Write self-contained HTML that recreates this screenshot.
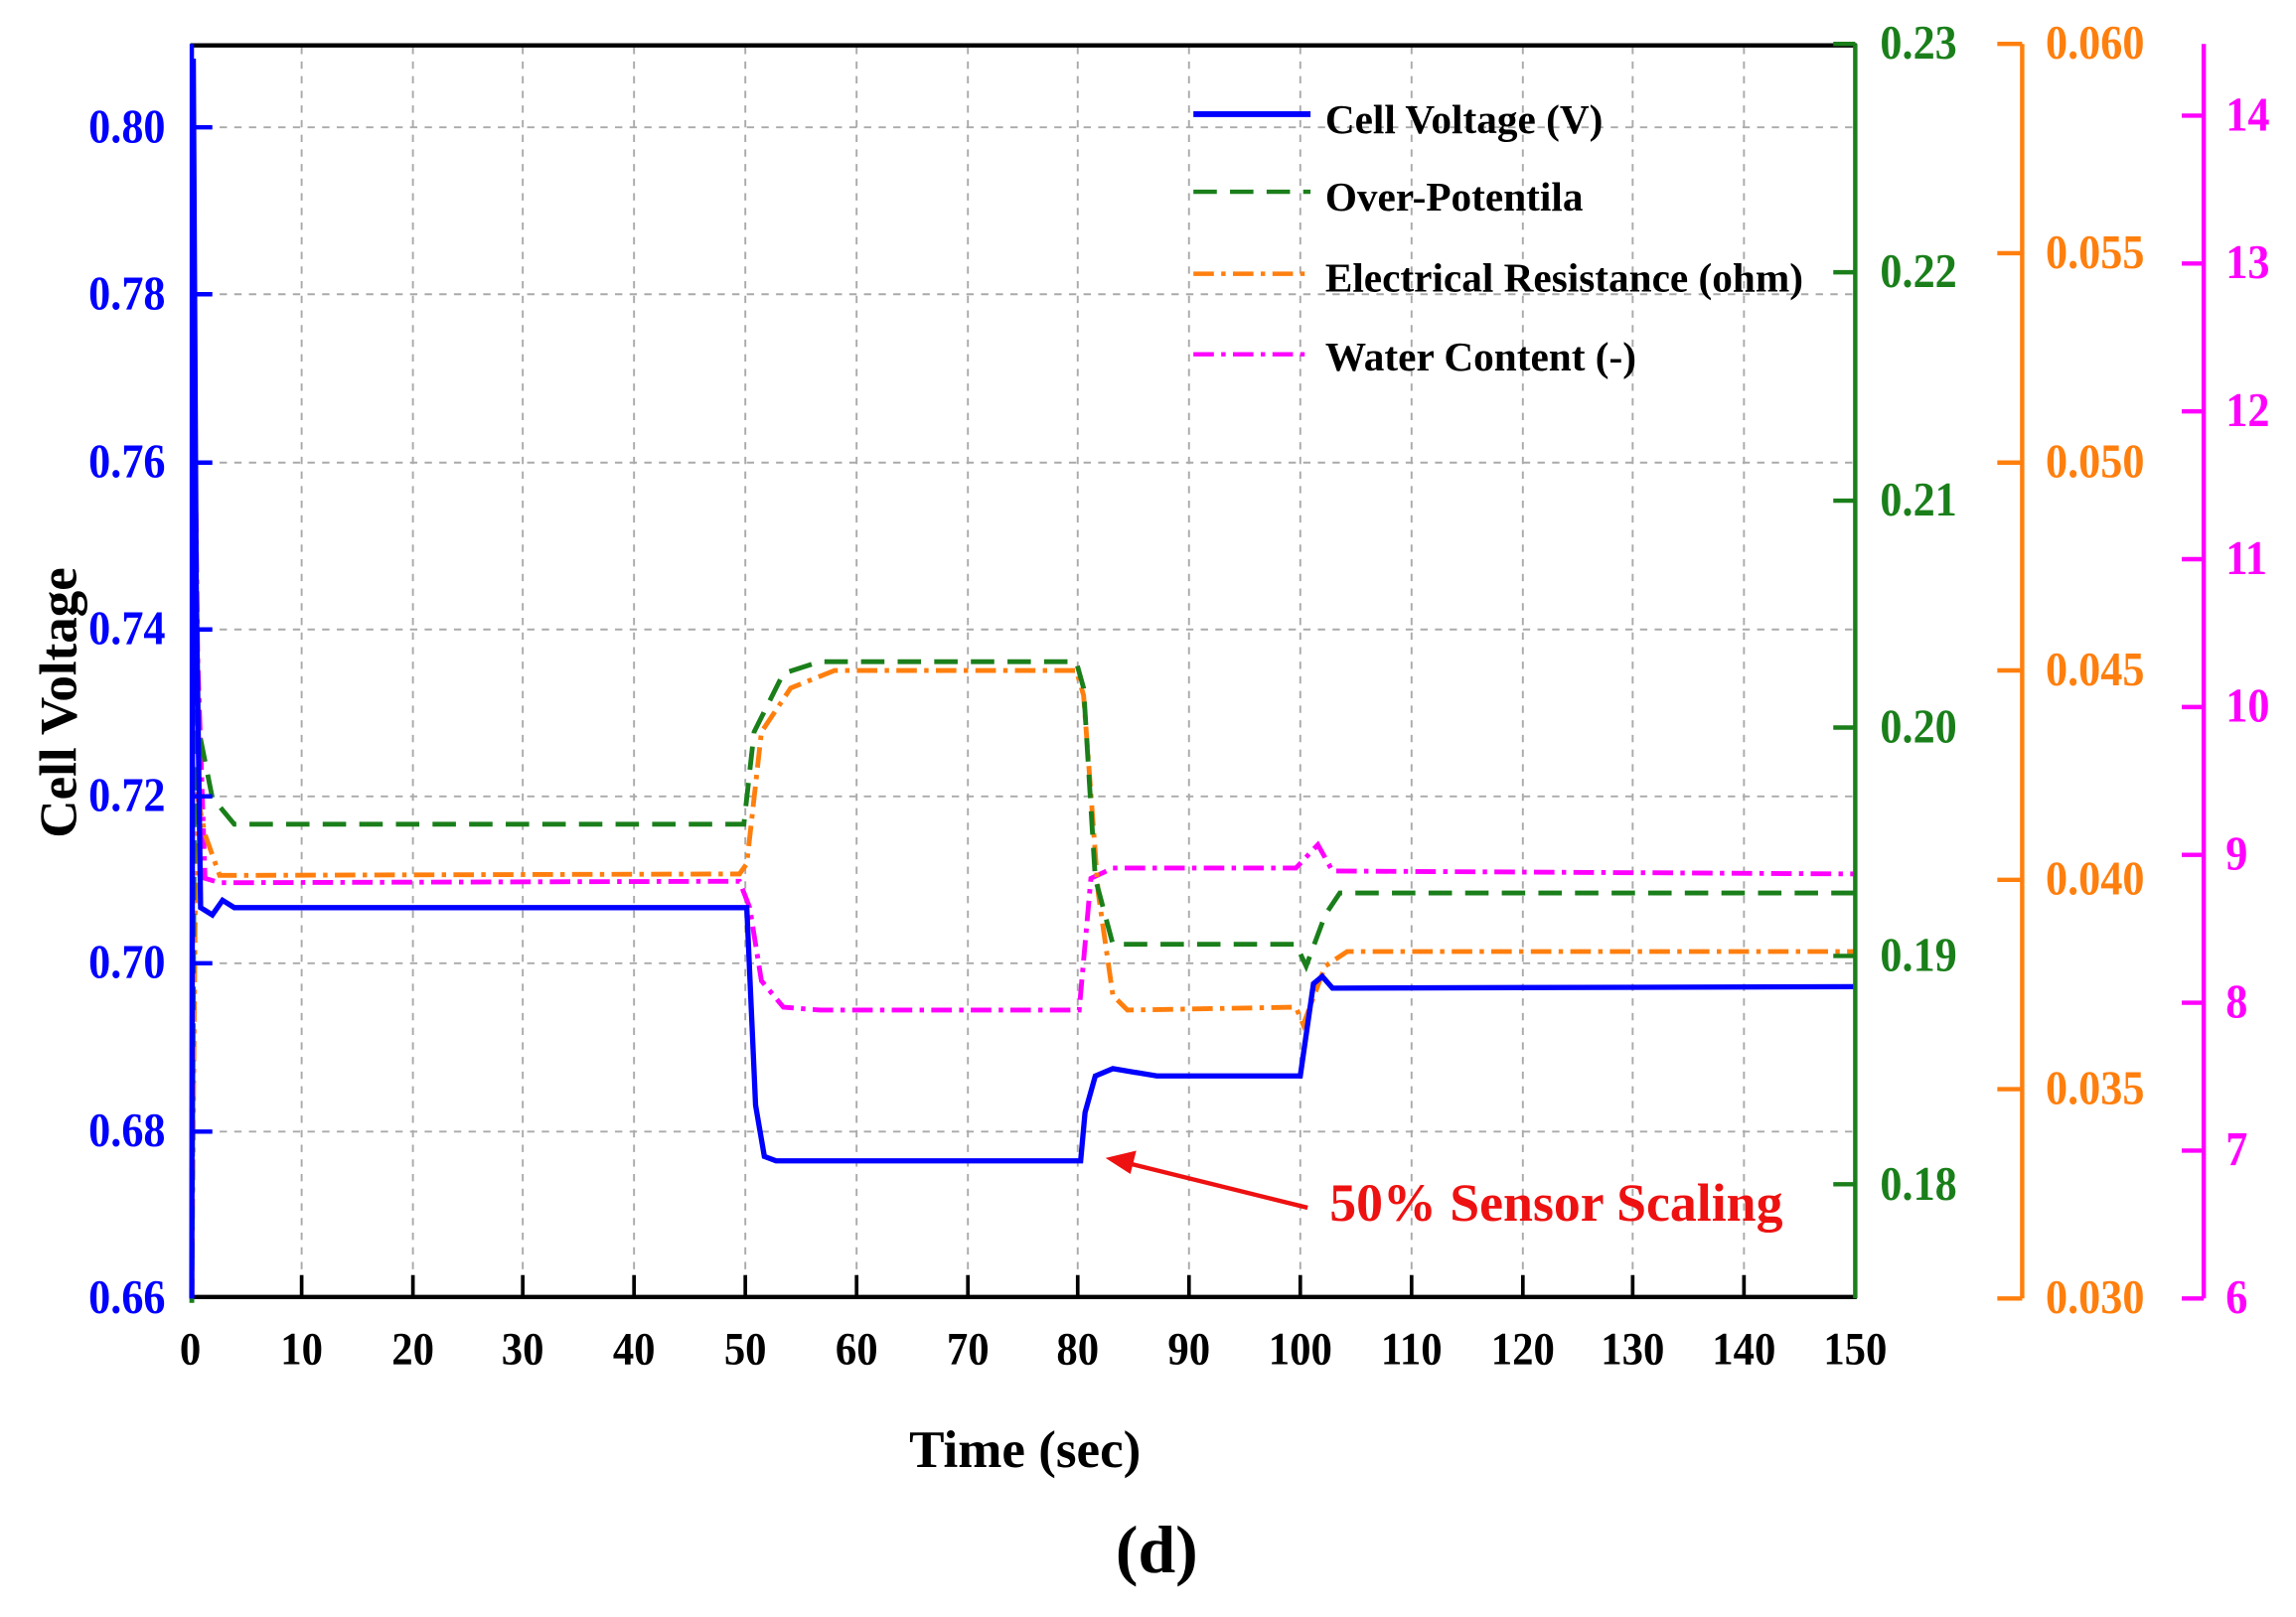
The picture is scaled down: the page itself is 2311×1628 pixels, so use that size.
<!DOCTYPE html>
<html><head><style>html,body{margin:0;padding:0;background:#fff}</style></head><body>
<svg width="2311" height="1623" viewBox="0 0 1568 1101.2" preserveAspectRatio="none" xmlns="http://www.w3.org/2000/svg" font-family="Liberation Serif, serif" font-weight="bold">
<g stroke="#aaa" stroke-width="1.3" stroke-dasharray="5,5">
<line x1="206" y1="32" x2="206" y2="886"/><line x1="282" y1="32" x2="282" y2="886"/><line x1="357" y1="32" x2="357" y2="886"/><line x1="433" y1="32" x2="433" y2="886"/><line x1="509" y1="32" x2="509" y2="886"/><line x1="585" y1="32" x2="585" y2="886"/><line x1="661" y1="32" x2="661" y2="886"/><line x1="736" y1="32" x2="736" y2="886"/><line x1="812" y1="32" x2="812" y2="886"/><line x1="888" y1="32" x2="888" y2="886"/><line x1="964" y1="32" x2="964" y2="886"/><line x1="1040" y1="32" x2="1040" y2="886"/><line x1="1115" y1="32" x2="1115" y2="886"/><line x1="1191" y1="32" x2="1191" y2="886"/>
<line x1="130" y1="87" x2="1267" y2="87"/><line x1="130" y1="201" x2="1267" y2="201"/><line x1="130" y1="316" x2="1267" y2="316"/><line x1="130" y1="430" x2="1267" y2="430"/><line x1="130" y1="544" x2="1267" y2="544"/><line x1="130" y1="658" x2="1267" y2="658"/><line x1="130" y1="773" x2="1267" y2="773"/>
</g>
<line x1="130" y1="31" x2="1268" y2="31" stroke="#000" stroke-width="3"/>
<line x1="130" y1="886" x2="1268" y2="886" stroke="#000" stroke-width="3"/>
<g stroke="#000" stroke-width="2.5">
<line x1="206" y1="886" x2="206" y2="871"/><line x1="282" y1="886" x2="282" y2="871"/><line x1="357" y1="886" x2="357" y2="871"/><line x1="433" y1="886" x2="433" y2="871"/><line x1="509" y1="886" x2="509" y2="871"/><line x1="585" y1="886" x2="585" y2="871"/><line x1="661" y1="886" x2="661" y2="871"/><line x1="736" y1="886" x2="736" y2="871"/><line x1="812" y1="886" x2="812" y2="871"/><line x1="888" y1="886" x2="888" y2="871"/><line x1="964" y1="886" x2="964" y2="871"/><line x1="1040" y1="886" x2="1040" y2="871"/><line x1="1115" y1="886" x2="1115" y2="871"/><line x1="1191" y1="886" x2="1191" y2="871"/>
</g>
<polyline fill="none" stroke="#ff00ff" stroke-width="3.3" stroke-dasharray="14,5,3,5" points="131,887 132,200 135,450 140,600 150,603 505,602 512,620 520,670 535,688 560,690 737,690 745,600 760,593 885,593 900,577 910,595 1267,597"/>
<polyline fill="none" stroke="#ff7f0e" stroke-width="3.3" stroke-dasharray="14,5,3,5" points="131,887 134,540 140,570 150,598 505,597 510,590 520,500 540,470 570,458 735,458 740,475 750,610 760,680 770,690 885,688 890,700 905,660 920,650 1267,650"/>
<polyline fill="none" stroke="#1a7f1a" stroke-width="3.3" stroke-dasharray="16,9" points="131,890 133,485 145,545 160,563 508,563 515,500 535,460 560,452 735,452 740,470 748,600 760,645 885,645 892,660 905,625 915,610 1267,610"/>
<polyline fill="none" stroke="#0000ff" stroke-width="3.6" points="131,887 132,40 134,400 137,620 145,625 152,615 160,620 510,620 516,755 522,790 530,793 738,793 741,760 748,735 760,730 790,735 888,735 897,672 903,667 910,675 1267,674"/>
<line x1="131" y1="30" x2="131" y2="887" stroke="#0000ff" stroke-width="3"/>
<g stroke="#0000ff" stroke-width="3"><line x1="131" y1="87" x2="145" y2="87"/><line x1="131" y1="201" x2="145" y2="201"/><line x1="131" y1="316" x2="145" y2="316"/><line x1="131" y1="430" x2="145" y2="430"/><line x1="131" y1="544" x2="145" y2="544"/><line x1="131" y1="658" x2="145" y2="658"/><line x1="131" y1="773" x2="145" y2="773"/></g>
<g fill="#0000ff" font-size="30" text-anchor="end" transform="scale(1,1.1)"><text x="113" y="88.5">0.80</text><text x="113" y="192">0.78</text><text x="113" y="296.4">0.76</text><text x="113" y="400">0.74</text><text x="113" y="503.6">0.72</text><text x="113" y="607.3">0.70</text><text x="113" y="711.8">0.68</text><text x="113" y="815.5">0.66</text></g>
<g stroke="#1a7f1a" stroke-width="3"><line x1="1267" y1="30" x2="1267" y2="887"/><line x1="1252" y1="30" x2="1267" y2="30"/><line x1="1252" y1="186" x2="1267" y2="186"/><line x1="1252" y1="342" x2="1267" y2="342"/><line x1="1252" y1="497" x2="1267" y2="497"/><line x1="1252" y1="653" x2="1267" y2="653"/><line x1="1252" y1="809" x2="1267" y2="809"/></g>
<g fill="#1a7f1a" font-size="30" transform="scale(1,1.1)"><text x="1284" y="36.4">0.23</text><text x="1284" y="178.2">0.22</text><text x="1284" y="320">0.21</text><text x="1284" y="461">0.20</text><text x="1284" y="603">0.19</text><text x="1284" y="745">0.18</text></g>
<g stroke="#ff7f0e" stroke-width="3"><line x1="1381" y1="30" x2="1381" y2="887"/><line x1="1364" y1="30" x2="1381" y2="30"/><line x1="1364" y1="173" x2="1381" y2="173"/><line x1="1364" y1="316" x2="1381" y2="316"/><line x1="1364" y1="458" x2="1381" y2="458"/><line x1="1364" y1="601" x2="1381" y2="601"/><line x1="1364" y1="744" x2="1381" y2="744"/><line x1="1364" y1="887" x2="1381" y2="887"/></g>
<g fill="#ff7f0e" font-size="30" transform="scale(1,1.1)"><text x="1397" y="36.4">0.060</text><text x="1397" y="166.4">0.055</text><text x="1397" y="296.4">0.050</text><text x="1397" y="425.5">0.045</text><text x="1397" y="555.5">0.040</text><text x="1397" y="685.5">0.035</text><text x="1397" y="815.5">0.030</text></g>
<g stroke="#ff00ff" stroke-width="3"><line x1="1505" y1="30" x2="1505" y2="887"/><line x1="1490" y1="79" x2="1505" y2="79"/><line x1="1490" y1="180" x2="1505" y2="180"/><line x1="1490" y1="281" x2="1505" y2="281"/><line x1="1490" y1="382" x2="1505" y2="382"/><line x1="1490" y1="483" x2="1505" y2="483"/><line x1="1490" y1="584" x2="1505" y2="584"/><line x1="1490" y1="685" x2="1505" y2="685"/><line x1="1490" y1="786" x2="1505" y2="786"/><line x1="1490" y1="887" x2="1505" y2="887"/></g>
<g fill="#ff00ff" font-size="30" transform="scale(1,1.1)"><text x="1520" y="81">14</text><text x="1520" y="172.7">13</text><text x="1520" y="264.5">12</text><text x="1520" y="356.4">11</text><text x="1520" y="448.2">10</text><text x="1520" y="540">9</text><text x="1520" y="631.8">8</text><text x="1520" y="723.6">7</text><text x="1520" y="815.5">6</text></g>
<g fill="#000" font-size="29" text-anchor="middle" transform="scale(1,1.1)"><text x="130" y="847.3">0</text><text x="206" y="847.3">10</text><text x="282" y="847.3">20</text><text x="357" y="847.3">30</text><text x="433" y="847.3">40</text><text x="509" y="847.3">50</text><text x="585" y="847.3">60</text><text x="661" y="847.3">70</text><text x="736" y="847.3">80</text><text x="812" y="847.3">90</text><text x="888" y="847.3">100</text><text x="964" y="847.3">110</text><text x="1040" y="847.3">120</text><text x="1115" y="847.3">130</text><text x="1191" y="847.3">140</text><text x="1267" y="847.3">150</text></g>
<text x="700" y="1002" font-size="36" text-anchor="middle">Time (sec)</text>
<text x="790" y="1074" font-size="46" text-anchor="middle">(d)</text>
<text transform="translate(52,480) rotate(-90)" font-size="36" text-anchor="middle">Cell Voltage</text>
<line x1="815" y1="78" x2="895" y2="78" stroke="#0000ff" stroke-width="4"/>
<line x1="815" y1="131" x2="895" y2="131" stroke="#1a7f1a" stroke-width="3" stroke-dasharray="16,9"/>
<line x1="815" y1="187" x2="895" y2="187" stroke="#ff7f0e" stroke-width="3" stroke-dasharray="14,5,3,5"/>
<line x1="815" y1="242" x2="895" y2="242" stroke="#ff00ff" stroke-width="3" stroke-dasharray="14,5,3,5"/>
<g fill="#000" font-size="28"><text x="905" y="91">Cell Voltage (V)</text><text x="905" y="144">Over-Potentila</text><text x="905" y="199">Electrical Resistance (ohm)</text><text x="905" y="253">Water Content (-)</text></g>
<line x1="893" y1="825" x2="772" y2="795" stroke="#ee1111" stroke-width="3"/>
<polygon points="755,791 776,786 772,802" fill="#ee1111"/>
<text x="908" y="834" fill="#ee1111" font-size="36.5">50% Sensor Scaling</text>
</svg>
</body></html>
